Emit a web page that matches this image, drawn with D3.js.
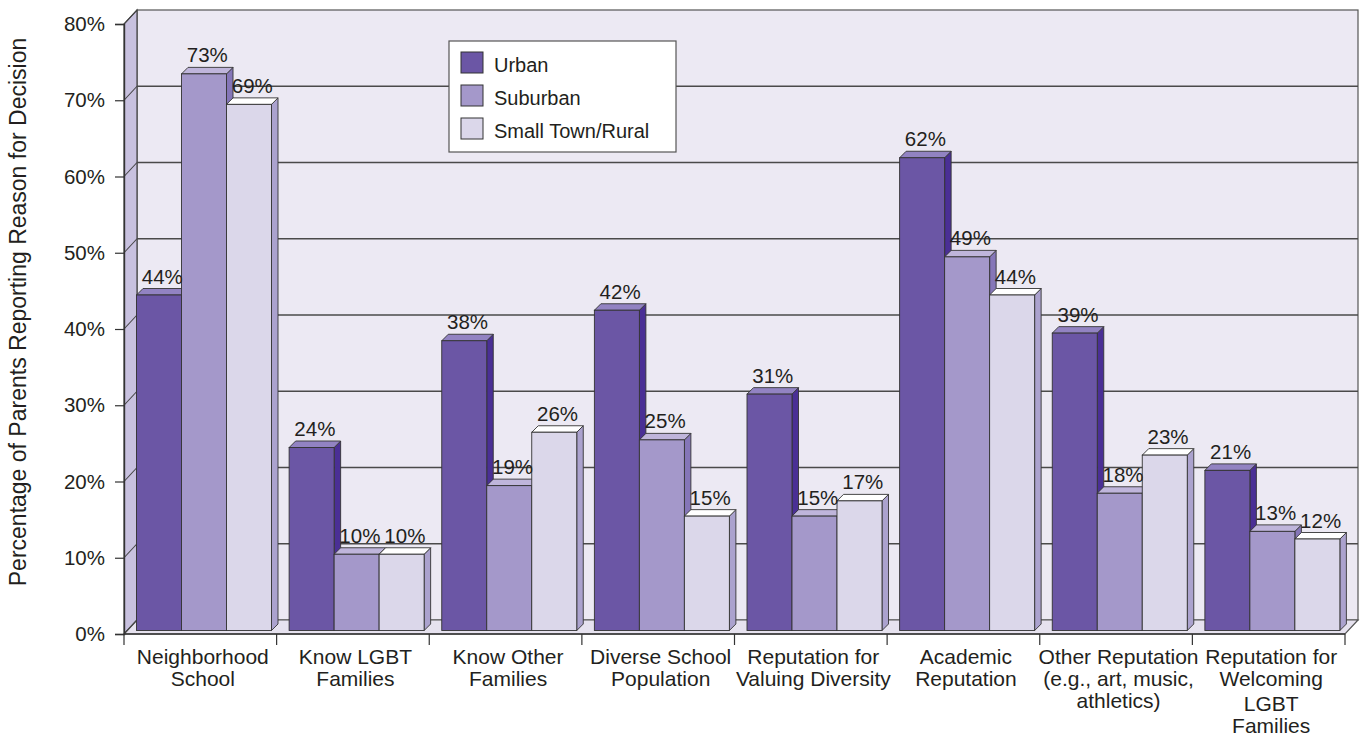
<!DOCTYPE html>
<html>
<head>
<meta charset="utf-8">
<script src="https://cdn.jsdelivr.net/npm/d3@7/dist/d3.min.js"></script>
<style>
  html, body { margin: 0; padding: 0; background: #ffffff; }
  svg { display: block; }
  text { font-family: "Liberation Sans", Arial, Helvetica, sans-serif; fill: #231f20; }
</style>
</head>
<body>
<svg id="chart" width="1364" height="738"></svg>
<script>
// ---------- data ----------
const categories = [
  ["Neighborhood", "School"],
  ["Know LGBT", "Families"],
  ["Know Other", "Families"],
  ["Diverse School", "Population"],
  ["Reputation for", "Valuing Diversity"],
  ["Academic", "Reputation"],
  ["Other Reputation", "(e.g., art, music,", "athletics)"],
  ["Reputation for", "Welcoming", "LGBT", "Families"]
];
const seriesNames = ["Urban", "Suburban", "Small Town/Rural"];
const urban    = [44, 24, 38, 42, 31, 62, 39, 21];
const suburban = [73, 10, 19, 25, 15, 49, 18, 13];
const rural    = [69, 10, 26, 15, 17, 44, 23, 12];
const yTicks = [0, 10, 20, 30, 40, 50, 60, 70, 80];
const yTitle = "Percentage of Parents Reporting Reason for Decision";

const seriesValues = [urban, suburban, rural];

// ---------- styles ----------
const colors = [
  { front: "#6b56a5", side: "#4a2f95", top: "#9283c2" },
  { front: "#a498ca", side: "#8576b8", top: "#bfb5db" },
  { front: "#dbd7ea", side: "#aba2ce", top: "#ffffff" }
];
const wallDX = 13, wallDY = -14;
const barOff = 3.5;
const barDepth = 6.5;
const stroke = "#333";

const svg = d3.select("#chart");

// ---------- scales ----------
const x = d3.scaleBand().domain(d3.range(categories.length)).range([124, 1345]).padding(0);
const y = d3.scaleLinear().domain([0, 80]).range([634, 24]);
const xs = d3.scaleBand().domain(d3.range(seriesNames.length)).range([12.5, 12.5 + 135]).padding(0);

const x0 = x.range()[0], x1 = x.range()[1];
const yb = y(0), yt = y(80);

// ---------- walls ----------
svg.append("rect")
  .attr("x", x0 + wallDX).attr("y", yt + wallDY)
  .attr("width", x1 - x0).attr("height", yb - yt)
  .attr("fill", "#ece9f3").attr("stroke", "#555").attr("stroke-width", 1.2);

svg.append("polygon")
  .attr("points", [[x0, yb], [x0, yt], [x0 + wallDX, yt + wallDY], [x0 + wallDX, yb + wallDY]].map(p => p.join(",")).join(" "))
  .attr("fill", "#c8c1df").attr("stroke", "#444").attr("stroke-width", 1.2);

svg.append("polygon")
  .attr("points", [[x0, yb], [x0 + wallDX, yb + wallDY], [x1 + wallDX, yb + wallDY], [x1, yb]].map(p => p.join(",")).join(" "))
  .attr("fill", "#e6e2ef").attr("stroke", "#555").attr("stroke-width", 1.2);

yTicks.forEach(v => {
  if (v > 0 && v < 80) {
    svg.append("line")
      .attr("x1", x0 + wallDX).attr("x2", x1 + wallDX)
      .attr("y1", y(v) + wallDY).attr("y2", y(v) + wallDY)
      .attr("stroke", "#4a4a4a").attr("stroke-width", 1.3);
  }
  svg.append("line")
    .attr("x1", x0).attr("x2", x0 + wallDX)
    .attr("y1", y(v)).attr("y2", y(v) + wallDY)
    .attr("stroke", "#444").attr("stroke-width", 1.1);
});

svg.append("line").attr("x1", x0).attr("x2", x1).attr("y1", yb).attr("y2", yb)
  .attr("stroke", "#333").attr("stroke-width", 1.6);

// ---------- axes ----------
const yAxis = d3.axisLeft(y).tickValues(yTicks).tickSize(9).tickPadding(10)
  .tickFormat(d => d + "%");
const gy = svg.append("g").attr("transform", `translate(${x0},0)`).call(yAxis);
gy.select(".domain").attr("stroke", "#333").attr("stroke-width", 1.4);
gy.selectAll(".tick line").attr("stroke", "#333").attr("stroke-width", 1.2);
gy.selectAll(".tick text").attr("font-size", 20.5).attr("fill", "#231f20")
  .style("font-family", '"Liberation Sans", Arial, sans-serif');

const gx = svg.append("g").attr("transform", `translate(0,${yb})`);
const boundaries = d3.range(categories.length + 1).map(i => x0 + x.bandwidth() * i);
gx.selectAll("line.bt").data(boundaries).join("line").attr("class", "bt")
  .attr("x1", d => d).attr("x2", d => d).attr("y1", 0).attr("y2", 11)
  .attr("stroke", "#333").attr("stroke-width", 1.2);

const lineH = 22;
categories.forEach((lines, i) => {
  const cx = x(i) + x.bandwidth() / 2 + 2.5;
  const t = svg.append("text").attr("x", cx).attr("text-anchor", "middle").attr("font-size", 21);
  lines.forEach((ln, k) => {
    t.append("tspan").attr("x", cx).attr("y", 664 + k * lineH + (k >= 2 && lines.length > 3 ? 3 : 0)).text(ln);
  });
});

svg.append("text")
  .attr("transform", `translate(26,312) rotate(-90)`)
  .attr("text-anchor", "middle")
  .attr("font-size", 23)
  .text(yTitle);

// ---------- bars ----------
const barsG = svg.append("g");
const labels = [];
categories.forEach((c, i) => {
  seriesValues.forEach((vals, s) => {
    const v = vals[i];
    const bx = x(i) + xs(s);
    const bw = xs.bandwidth();
    const by0 = y(0) - barOff;
    const byT = y(v) - barOff;
    const col = colors[s];
    barsG.append("polygon")
      .attr("points", [[bx + bw, by0], [bx + bw, byT], [bx + bw + barDepth, byT - barDepth], [bx + bw + barDepth, by0 - barDepth]].map(p => p.join(",")).join(" "))
      .attr("fill", col.side).attr("stroke", stroke).attr("stroke-width", 0.9).attr("stroke-linejoin", "round");
    barsG.append("polygon")
      .attr("points", [[bx, byT], [bx + barDepth, byT - barDepth], [bx + bw + barDepth, byT - barDepth], [bx + bw, byT]].map(p => p.join(",")).join(" "))
      .attr("fill", col.top).attr("stroke", stroke).attr("stroke-width", 0.9).attr("stroke-linejoin", "round");
    barsG.append("rect")
      .attr("x", bx).attr("y", byT).attr("width", bw).attr("height", by0 - byT)
      .attr("fill", col.front).attr("stroke", stroke).attr("stroke-width", 0.9);
    labels.push({ x: bx + bw / 2 + barDepth / 2, y: byT - barDepth - 5, t: v + "%" });
  });
});

svg.append("g").selectAll("text").data(labels).join("text")
  .attr("x", d => d.x).attr("y", d => d.y)
  .attr("text-anchor", "middle").attr("font-size", 20.5)
  .text(d => d.t);

// ---------- legend ----------
const lg = svg.append("g");
lg.append("rect").attr("x", 449).attr("y", 41).attr("width", 227).attr("height", 111)
  .attr("fill", "#ffffff").attr("stroke", "#555").attr("stroke-width", 1.2);
seriesNames.forEach((name, s) => {
  const ry = 52 + s * 33;
  lg.append("rect").attr("x", 461).attr("y", ry).attr("width", 22).attr("height", 21)
    .attr("fill", colors[s].front).attr("stroke", stroke).attr("stroke-width", 1);
  lg.append("text").attr("x", 494).attr("y", ry + 20).attr("font-size", 20).text(name);
});
</script>
</body>
</html>
